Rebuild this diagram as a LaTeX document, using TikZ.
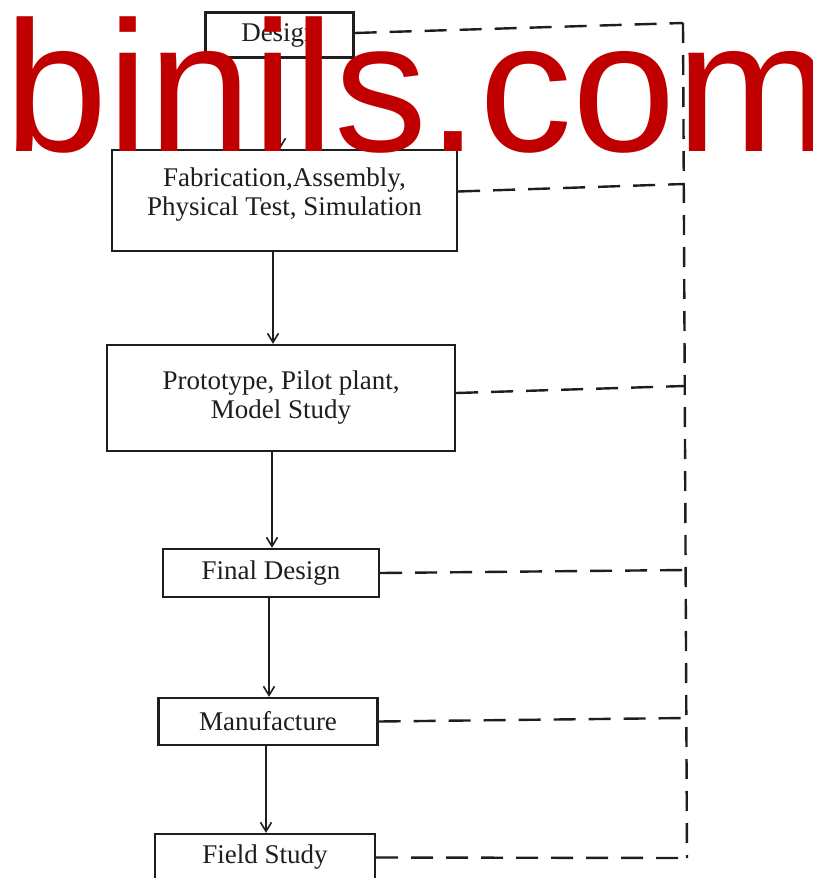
\documentclass[tikz,border=0pt]{standalone}
\usepackage{fontspec}
\setmainfont{Liberation Serif}
\newfontfamily\wmfont{Liberation Sans}
\usetikzlibrary{arrows.meta}
\definecolor{wmred}{RGB}{192,0,0}
\definecolor{ink}{RGB}{30,30,30}
\begin{document}
\begin{tikzpicture}[x=1pt,y=-1pt,
  box/.style={draw=ink, line width=2.3pt, fill=white, align=center, inner sep=0pt,
    font=\fontsize{27}{29}\selectfont, text=ink},
  flow/.style={draw=ink, line width=1.6pt,
    -{Straight Barb[length=9pt,width=11pt,line width=1.6pt]}},
  fb/.style={draw=ink, line width=2.4pt, dash pattern=on 22pt off 13pt},
  fbv/.style={draw=ink, line width=2.4pt, dash pattern=on 20pt off 12pt},
  wm/.style={anchor=base west, inner sep=0pt, text=wmred,
    font=\wmfont\fontsize{186}{186}\selectfont}
]
\useasboundingbox (0,0) rectangle (812,878);
\fill[white] (0,0) rectangle (812,878);

% boxes
\node[box, minimum width=148pt, minimum height=45pt] (design) at (279.5,35) {Design};
\node[box, minimum width=345pt, minimum height=101pt] (fab) at (284.5,200.5)
  {Fabrication,Assembly,\\Physical Test, Simulation\\[-20pt]\strut};
\node[box, minimum width=348pt, minimum height=106pt] (proto) at (281,398)
  {Prototype, Pilot plant,\\Model Study};
\node[box, minimum width=216pt, minimum height=48pt] (final) at (271,573) {Final Design};
\node[box, minimum width=219pt, minimum height=47pt] (manuf) at (268,721.5) {Manufacture};
\node[box, minimum width=220pt, minimum height=47pt] (field) at (265,857.5) {Field Study};

% arrow columns
\coordinate (x1) at (280,0);
\coordinate (x2) at (273,0);
\coordinate (x3) at (272,0);
\coordinate (x4) at (269,0);
\coordinate (x5) at (266,0);
\draw[flow] (design.south -| x1) -- (fab.north -| x1);
\draw[flow] (fab.south -| x2) -- (proto.north -| x2);
\draw[flow] (proto.south -| x3) -- (final.north -| x3);
\draw[flow] (final.south -| x4) -- (manuf.north -| x4);
\draw[flow] (manuf.south -| x5) -- (field.north -| x5);

% feedback dashed lines
\coordinate (vt) at (683,23);
\coordinate (j2) at (684,184);
\coordinate (j3) at (684.5,386);
\coordinate (j4) at (685.5,570);
\coordinate (j5) at (686,718);
\coordinate (vb) at (687,858);
\draw[fbv] (vt) -- (vb);
\draw[fb] ([yshift=2pt]design.east) -- (vt);
\draw[fb] ([yshift=9pt]fab.east) -- (j2);
\draw[fb] ([yshift=5pt]proto.east) -- (j3);
\draw[fb] (final.east) -- (j4);
\draw[fb] (manuf.east) -- (j5);
\draw[fb] (field.east) -- (vb);

% watermark
\node[wm] (wmark) at (4,151) {binils.com};
\end{tikzpicture}
\end{document}
